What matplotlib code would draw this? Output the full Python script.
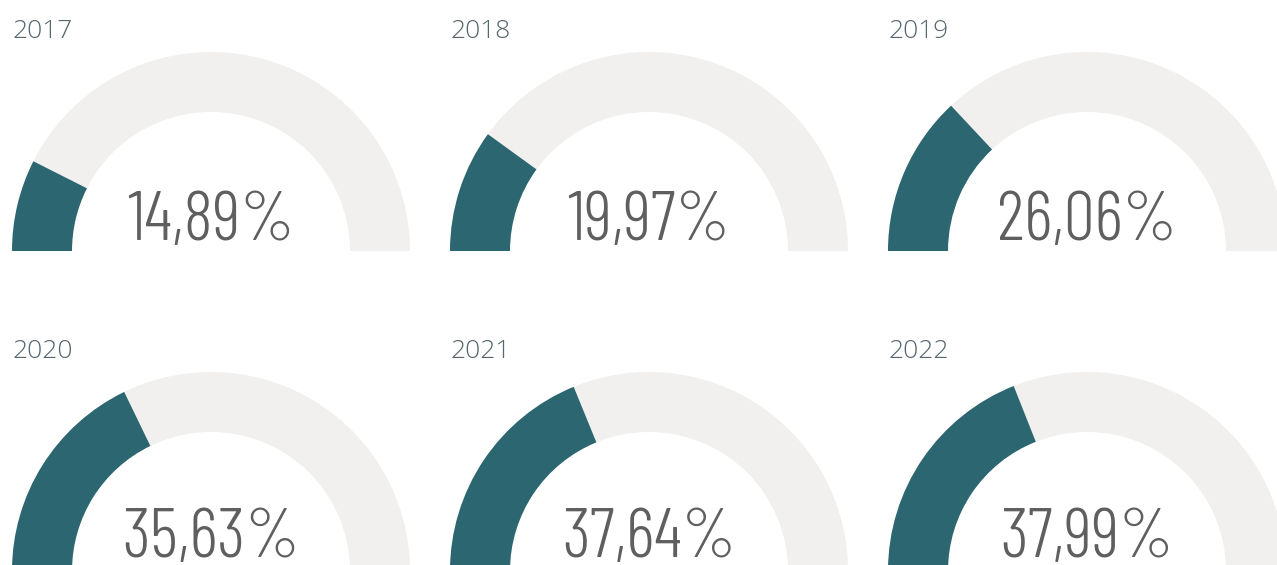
import matplotlib
matplotlib.use("Agg")
import matplotlib.pyplot as plt
from matplotlib.patches import Wedge

years = ["2017", "2018", "2019", "2020", "2021", "2022"]
values = [14.89, 19.97, 26.06, 35.63, 37.64, 37.99]
labels = ["14,89%", "19,97%", "26,06%", "35,63%", "37,64%", "37,99%"]
max_value = 100.0

W, H = 1277, 565
fig = plt.figure(figsize=(W / 100, H / 100), dpi=100)
ax = fig.add_axes([0, 0, 1, 1])
ax.set_xlim(0, W)
ax.set_ylim(0, H)
ax.axis("off")

teal = "#2b6671"
track = "#f1f0ef"
title_color = "#56666e"
value_color = "#5f5f5f"

centers_x = [211, 649, 1087]
base_y = [565 - 251, 565 - 571]
title_y = [565 - 38, 565 - 358]
value_y = [565 - 240, 565 - 557]
R_out, ring = 199, 60

for i, (yr, v, lab) in enumerate(zip(years, values, labels)):
    row, col = divmod(i, 3)
    cx, cy = centers_x[col], base_y[row]
    ax.add_patch(Wedge((cx, cy), R_out, 0, 180, width=ring, facecolor=track, edgecolor="none"))
    ang = 180 - 180 * v / max_value
    ax.add_patch(Wedge((cx, cy), R_out, ang, 180, width=ring, facecolor=teal, edgecolor="none"))
    ax.text(cx - R_out + 1, title_y[row], yr, ha="left", va="baseline", fontsize=19,
            color=title_color, family=["Open Sans", "DejaVu Sans"], fontweight="light")
    ax.text(cx, value_y[row], lab, ha="center", va="baseline", fontsize=50,
            color=value_color, family=["Barlow Condensed", "Roboto Condensed", "DejaVu Sans"],
            fontweight=300)

fig.savefig("out.png", dpi=100, facecolor="white")
